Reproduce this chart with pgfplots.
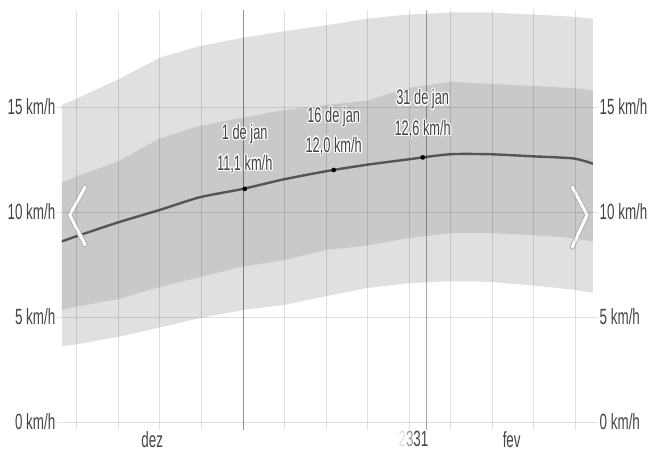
\documentclass[border=0pt]{standalone}
\usepackage{fontspec}
\setmainfont{Liberation Sans}
\usepackage{graphicx}
\usepackage{pgfplots}
\pgfplotsset{compat=1.18}
\usepackage{pgfplotstable}
\usepgfplotslibrary{fillbetween}

\definecolor{txt}{HTML}{444444}
\definecolor{bandlo}{HTML}{E0E0E0}
\definecolor{bandhi}{HTML}{C9C9C9}
\definecolor{med}{HTML}{555555}

\newcommand\sq[1]{\scalebox{0.61}[1]{#1}}
\newcommand\tickfont{\fontsize{22}{25}\selectfont}
\newcommand\lblfont{\fontsize{21}{24}\selectfont}

% days from 1 Jan, wind speed percentiles (km/h)
\pgfplotstableread{
day   p10  p25  med   p75   p90
-30.5 3.60 5.33 8.60  11.40 15.10
-28.0 3.70 5.50 8.85  11.70 15.40
-21.1 4.05 5.85 9.50  12.40 16.30
-14.0 4.50 6.43 10.10 13.50 17.35
-7.3  4.95 6.90 10.70 14.10 17.90
0.0   5.33 7.40 11.10 14.50 18.30
6.8   5.57 7.70 11.55 14.85 18.60
14.2  6.00 8.20 11.95 15.10 18.90
20.9  6.38 8.40 12.25 15.30 19.20
27.7  6.60 8.75 12.50 15.90 19.40
34.9  6.70 9.00 12.75 16.20 19.50
41.7  6.67 9.00 12.75 16.10 19.50
48.9  6.50 8.90 12.65 16.00 19.40
55.7  6.30 8.75 12.55 15.90 19.30
59.0  6.14 8.60 12.30 15.80 19.20
}\wind

\newcommand\halotext[3]{%
  \foreach \dx/\dy in {1.3/0,-1.3/0,0/1.3,0/-1.3,.9/.9,-.9/.9,.9/-.9,-.9/-.9}{
    \node[text=white, font=\lblfont, inner sep=0pt] at ([shift={(\dx pt,\dy pt+#2)}]#1) {\sq{#3}};}
  \node[text=txt, font=\lblfont, inner sep=0pt] at ([yshift=#2]#1) {\sq{#3}};}

\begin{document}
\begin{tikzpicture}
\begin{axis}[
  scale only axis, width=531pt, height=420pt,
  xmin=-30.5, xmax=59, ymin=-0.381, ymax=19.619,
  axis line style={draw=none},
  axis on top,
  grid=major,
  grid style={black, opacity=0.12, line width=0.8pt},
  xtick={-28,-21,...,56}, xticklabels={},
  x tick style={draw=none},
  extra x ticks={-15.3,30.0,45.3},
  extra x tick labels={\sq{dez},\sq{\llap{\textcolor{black!12}{2}\textcolor{black!40}{3}}31},\sq{fev}},
  extra x tick style={grid=none, major tick length=0pt},
  xticklabel style={font=\tickfont, text=txt, inner sep=1pt},
  ytick={0,5,10,15},
  yticklabels={\sq{0 km/h},\sq{5 km/h},\sq{10 km/h},\sq{15 km/h}},
  ytick pos=both, yticklabel pos=left,
  tick align=outside, major tick length=5pt,
  y tick style={black, opacity=0.12, line width=0.8pt},
  yticklabel style={font=\tickfont, text=txt, inner sep=1.5pt},
]
\addplot[name path=p90, draw=none] table[x=day, y=p90] {\wind};
\addplot[name path=p10, draw=none] table[x=day, y=p10] {\wind};
\addplot[name path=p75, draw=none] table[x=day, y=p75] {\wind};
\addplot[name path=p25, draw=none] table[x=day, y=p25] {\wind};
\addplot[bandlo, draw=none] fill between[of=p90 and p10];
\addplot[bandhi, draw=none] fill between[of=p75 and p25];
\addplot[med, line width=2.4pt, smooth, tension=0.4] table[x=day, y=med] {\wind};

\draw[black, opacity=0.35, line width=0.9pt] (axis cs:0,-0.381) -- (axis cs:0,19.619);
\draw[black, opacity=0.35, line width=0.9pt] (axis cs:30.9,-0.381) -- (axis cs:30.9,19.619);

\addplot[only marks, mark=*, mark size=2.1pt, black] coordinates {(0.3,11.1) (15.3,12.0) (30.3,12.6)};

\draw[black!30, line width=5pt, line cap=round, line join=round]
  (axis cs:-26.6,11.19) -- (axis cs:-29.2,9.86) -- (axis cs:-26.6,8.43);
\draw[white, line width=3pt, line cap=round, line join=round]
  (axis cs:-26.6,11.19) -- (axis cs:-29.2,9.86) -- (axis cs:-26.6,8.43);
\draw[black!30, line width=5pt, line cap=round, line join=round]
  (axis cs:55.5,11.19) -- (axis cs:58.0,9.86) -- (axis cs:55.5,8.33);
\draw[white, line width=3pt, line cap=round, line join=round]
  (axis cs:55.5,11.19) -- (axis cs:58.0,9.86) -- (axis cs:55.5,8.33);

\coordinate (m1) at (axis cs:0.3,11.1);
\coordinate (m2) at (axis cs:15.3,12.0);
\coordinate (m3) at (axis cs:30.3,12.6);
\end{axis}
\begin{axis}[
  scale only axis, width=531pt, height=420pt,
  xmin=-30.5, xmax=59, ymin=-0.381, ymax=19.619,
  axis line style={draw=none},
  xtick=\empty,
  ytick={0,5,10,15},
  yticklabels={\sq{0 km/h},\sq{5 km/h},\sq{10 km/h},\sq{15 km/h}},
  ytick pos=right, yticklabel pos=right,
  tick align=outside, major tick length=5pt,
  y tick style={draw=none},
  yticklabel style={font=\tickfont, text=txt, inner sep=1.5pt},
]
\end{axis}

\halotext{m1}{55pt}{1 de jan}
\halotext{m1}{25pt}{11,1 km/h}
\halotext{m2}{53pt}{16 de jan}
\halotext{m2}{24pt}{12,0 km/h}
\halotext{m3}{58pt}{31 de jan}
\halotext{m3}{28pt}{12,6 km/h}

\pgfresetboundingbox
\path[use as bounding box] (-62pt,-24pt) rectangle (587pt,430pt);
\end{tikzpicture}
\end{document}
